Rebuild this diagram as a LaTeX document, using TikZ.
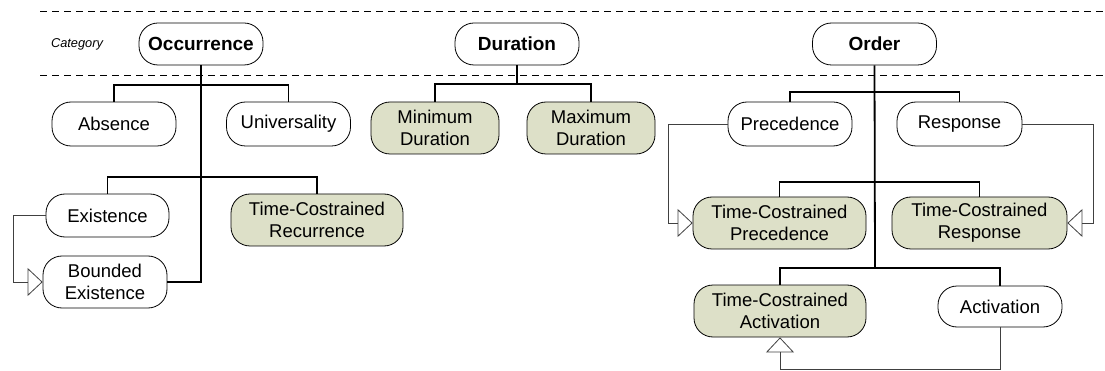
\documentclass[tikz,border=0pt]{standalone}
\usepackage{fontspec}
\setmainfont{Liberation Sans}
\usetikzlibrary{arrows.meta,positioning}
\definecolor{tcfill}{RGB}{221,224,200}
\begin{document}
\begin{tikzpicture}[
  x=1pt, y=-1pt,
  pat/.style={draw, line width=0.8pt, rounded corners=19pt, minimum width=124pt, minimum height=44pt, align=center, inner sep=2pt, fill=white, font=\fontsize{18.5}{22}\selectfont},
  cat/.style={pat, minimum height=42pt, font=\bfseries\fontsize{19}{22}\selectfont},
  two/.style={pat, minimum height=52pt},
  tc/.style={two, fill=tcfill, minimum width=173pt},
  tree/.style={line width=1.8pt},
  ext/.style={line width=0.8pt, draw=black!75, -{Triangle[open, length=15pt, width=28pt]}},
  sep/.style={line width=0.8pt, dash pattern=on 7pt off 5pt},
]
\useasboundingbox (0,0) rectangle (1105,371);
% category band
\draw[sep] (40,11) -- (1105,11);
\draw[sep] (40,75) -- (1105,75);
\node[font=\itshape\fontsize{12.8}{14}\selectfont] (catlab) at (77,44) {Category};
\foreach \n/\x/\t in {occ/201/Occurrence, dur/517/Duration, ord/874.5/Order}{
  \node[cat] (\n) at (\x,44) {\t};
}
% occurrence patterns
\node[pat] (abs) at (114,124) {Absence};
\node[pat] (uni) at (288.5,124) {Universality};
\node[pat, minimum width=123pt, minimum height=43pt] (exi) at (107.5,215.5) {Existence};
\node[two] (bex) at (105,282) {Bounded\\Existence};
\node[tc, minimum width=172pt] (tcr) at (317,220) {Time-Costrained\\Recurrence};
% duration patterns
\node[tc, minimum width=128pt] (mind) at (435,128) {Minimum\\Duration};
\node[tc, minimum width=128pt] (maxd) at (591,128) {Maximum\\Duration};
% order patterns
\node[pat] (pre) at (790,124) {Precedence};
\node[pat, minimum width=125pt] (res) at (959.5,124) {Response};
\node[tc] (tcp) at (779.5,223) {Time-Costrained\\Precedence};
\node[tc, minimum width=175pt] (tcres) at (979.5,223) {Time-Costrained\\Response};
\node[tc, minimum width=172pt] (tca) at (780,311) {Time-Costrained\\Activation};
\node[pat, minimum height=41pt] (act) at (1000,306.5) {Activation};
% tree joints
\coordinate (occ-b1) at (201,85);
\coordinate (occ-b2) at (201,177);
\coordinate (dur-b) at (517,84);
\coordinate (ord-b1) at (875,92);
\coordinate (ord-b2) at (875,182);
\coordinate (ord-b3) at (875,268);
% tree connectors
\draw[tree] (occ.south) |- (bex.east);
\draw[tree] (abs.north) |- (occ-b1) -| (uni.north);
\draw[tree] (exi.north) |- (occ-b2) -| (tcr.north);
\draw[tree] (dur.south) -- (dur-b);
\draw[tree] (mind.north) |- (dur-b) -| (maxd.north);
\draw[tree] (ord.south) -- (ord-b3);
\draw[tree] (pre.north) |- (ord-b1) -| (res.north);
\draw[tree] (tcp.north) |- (ord-b2) -| (tcres.north);
\draw[tree] (tca.north) |- (ord-b3) -| (act.north);
% specialisation links
\coordinate (exi-l) at (13,215.5);
\coordinate (pre-l) at (668,124);
\coordinate (res-r) at (1093,124);
\coordinate (act-d) at (1000,369.5);
\draw[ext] (exi.west) -- (exi-l) |- (bex.west);
\draw[ext] (pre.west) -- (pre-l) |- (tcp.west);
\draw[ext] (res.east) -- (res-r) |- (tcres.east);
\draw[ext] (act.south) -- (act-d) -| (tca.south);
\end{tikzpicture}
\end{document}
